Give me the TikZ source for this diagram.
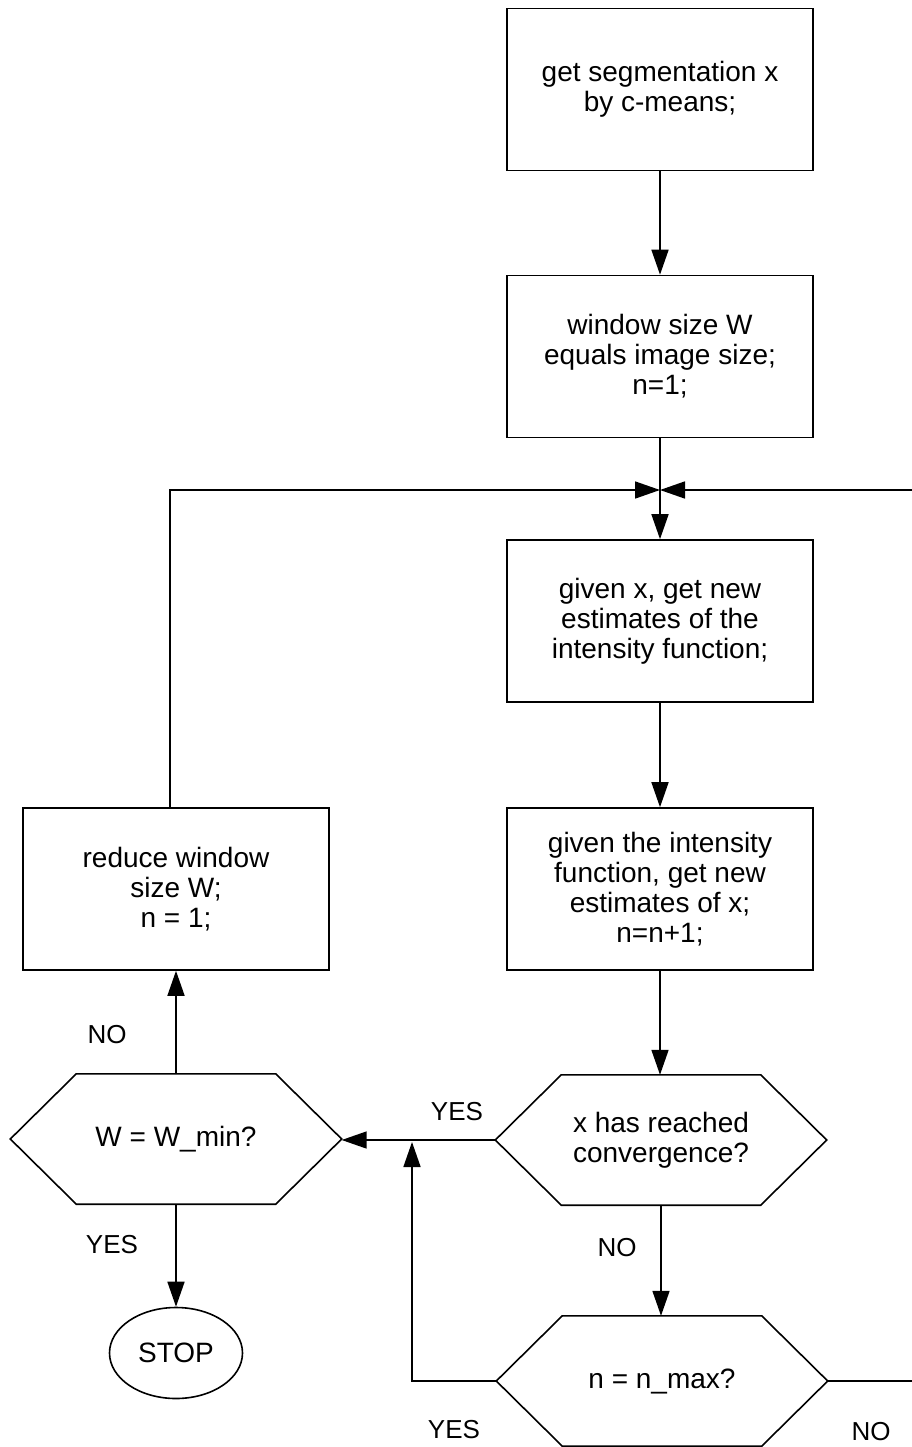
\documentclass[tikz,border=0pt]{standalone}
\usepackage{fontspec}
\setmainfont{Liberation Sans}
\usetikzlibrary{arrows.meta,shapes.geometric}
\newcommand\hexoutline[1]{%
  \draw[conn] (#1.west) -- ([xshift=66pt]#1.north west) -- ([xshift=-66pt]#1.north east) -- (#1.east)
    -- ([xshift=-66pt]#1.south east) -- ([xshift=66pt]#1.south west) -- cycle;}
\begin{document}
\begin{tikzpicture}[x=1pt,y=-1pt,
  every node/.style={font=\fontsize{28}{30}\selectfont},
  box/.style={draw, line width=1.6pt, minimum width=306pt, minimum height=162pt, align=center, inner sep=0pt},
  hexa/.style={minimum width=331pt, minimum height=130pt, align=center, inner sep=0pt},
  term/.style={draw, ellipse, line width=1.6pt, minimum width=133pt, minimum height=91pt, inner sep=0pt},
  lbl/.style={font=\fontsize{26}{28}\selectfont},
  conn/.style={line width=1.6pt},
  arr/.style={conn, -{Triangle[length=25pt,width=17pt]}},
]
\useasboundingbox (0,0) rectangle (912,1447);

\node[box] (b1) at (660,89.5) {get segmentation x\\by c-means;};
\node[box] (b2) at (660,356.5) {window size W\\equals image size;\\n=1;};
\coordinate (J) at (660,490);
\node[box] (b3) at (660,621) {given x, get new\\estimates of the\\intensity function;};
\node[box] (b4) at (660,889) {given the intensity\\function, get new\\estimates of x;\\n=n+1;};
\node[box] (r) at (176,889) {reduce window\\size W;\\n = 1;};
\node[hexa] (h1) at (661,1140) {x has reached\\convergence?};
\node[hexa] (hw) at (176,1139) {W = W\_min?};
\node[hexa] (h2) at (662,1381) {n = n\_max?};
\node[term] (stop) at (176,1353) {STOP};

\hexoutline{h1}
\hexoutline{hw}
\hexoutline{h2}

\coordinate (re) at (913.5,1381);
\coordinate (lj) at (412,1142);

\draw[arr] (b1) -- (b2);
\draw[conn] (b2) -- (J);
\draw[arr] (J) -- (b3);
\draw[arr] (b3) -- (b4);
\draw[arr] (b4.south) -- (b4.south |- h1.north);
\draw[arr] (h1.west) -- (h1.west -| hw.east);
\draw[arr] ([xshift=-6pt]r.north) |- (J);
\draw[arr] (h2.east) -- (re) |- (J);
\draw[arr] (h2.west) -| (lj);
\draw[arr] (hw) -- (r);
\draw[arr] (hw) -- (stop);
\draw[arr] (h1.south) -- (h1.south |- h2.north);

\node[lbl] (no1) at (107,1035) {NO};
\node[lbl] (yes1) at (112,1245) {YES};
\node[lbl] (yes2) at (457,1112) {YES};
\node[lbl] (no2) at (617,1248) {NO};
\node[lbl] (yes3) at (454,1430) {YES};
\node[lbl] (no3) at (871,1432) {NO};
\end{tikzpicture}
\end{document}
